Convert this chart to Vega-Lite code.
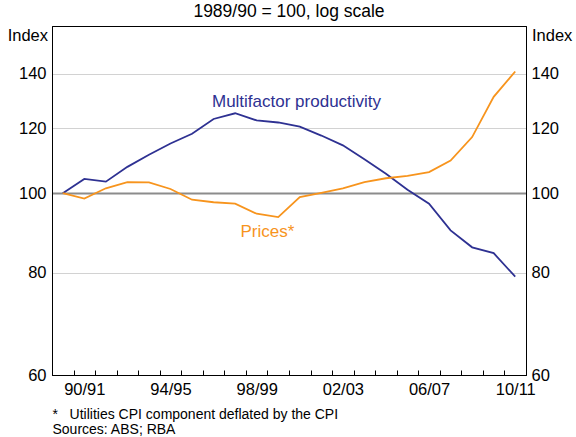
{
  "$schema": "https://vega.github.io/schema/vega-lite/v6.json",
  "width": 474,
  "height": 349,
  "autosize": "none",
  "padding": {"left": 52, "top": 26, "right": 50, "bottom": 62},
  "title": {
    "text": "1989/90 = 100, log scale",
    "fontSize": 17.5,
    "fontWeight": "normal",
    "font": "Liberation Sans",
    "color": "#000",
    "anchor": "middle",
    "frame": "group",
    "baseline": "bottom",
    "offset": 4,
    "dy": 16
  },
  "config": {
    "font": "Liberation Sans",
    "view": {"stroke": "#000", "strokeWidth": 1},
    "axis": {"labelColor": "#000", "titleColor": "#000", "labelFont": "Liberation Sans", "titleFont": "Liberation Sans", "domainColor": "#000", "domainWidth": 1}
  },
  "layer": [
    {
      "data": {
        "values": [
          {"year": 1990, "series": "Multifactor productivity", "value": 100},
          {"year": 1991, "series": "Multifactor productivity", "value": 104.1},
          {"year": 1992, "series": "Multifactor productivity", "value": 103.3},
          {"year": 1993, "series": "Multifactor productivity", "value": 107.7},
          {"year": 1994, "series": "Multifactor productivity", "value": 111.4},
          {"year": 1995, "series": "Multifactor productivity", "value": 115.0},
          {"year": 1996, "series": "Multifactor productivity", "value": 118.2},
          {"year": 1997, "series": "Multifactor productivity", "value": 123.2},
          {"year": 1998, "series": "Multifactor productivity", "value": 125.2},
          {"year": 1999, "series": "Multifactor productivity", "value": 122.7},
          {"year": 2000, "series": "Multifactor productivity", "value": 122.0},
          {"year": 2001, "series": "Multifactor productivity", "value": 120.6},
          {"year": 2002, "series": "Multifactor productivity", "value": 117.6},
          {"year": 2003, "series": "Multifactor productivity", "value": 114.4},
          {"year": 2004, "series": "Multifactor productivity", "value": 110.0},
          {"year": 2005, "series": "Multifactor productivity", "value": 105.6},
          {"year": 2006, "series": "Multifactor productivity", "value": 101.0},
          {"year": 2007, "series": "Multifactor productivity", "value": 97.1},
          {"year": 2008, "series": "Multifactor productivity", "value": 90.1},
          {"year": 2009, "series": "Multifactor productivity", "value": 85.9},
          {"year": 2010, "series": "Multifactor productivity", "value": 84.5},
          {"year": 2011, "series": "Multifactor productivity", "value": 79.1},
          {"year": 1990, "series": "Prices", "value": 100},
          {"year": 1991, "series": "Prices", "value": 98.5},
          {"year": 1992, "series": "Prices", "value": 101.4},
          {"year": 1993, "series": "Prices", "value": 103.2},
          {"year": 1994, "series": "Prices", "value": 103.1},
          {"year": 1995, "series": "Prices", "value": 101.2},
          {"year": 1996, "series": "Prices", "value": 98.2},
          {"year": 1997, "series": "Prices", "value": 97.5},
          {"year": 1998, "series": "Prices", "value": 97.1},
          {"year": 1999, "series": "Prices", "value": 94.4},
          {"year": 2000, "series": "Prices", "value": 93.5},
          {"year": 2001, "series": "Prices", "value": 98.9},
          {"year": 2002, "series": "Prices", "value": 100.1},
          {"year": 2003, "series": "Prices", "value": 101.4},
          {"year": 2004, "series": "Prices", "value": 103.2},
          {"year": 2005, "series": "Prices", "value": 104.3},
          {"year": 2006, "series": "Prices", "value": 105.0},
          {"year": 2007, "series": "Prices", "value": 106.1},
          {"year": 2008, "series": "Prices", "value": 109.6},
          {"year": 2009, "series": "Prices", "value": 117.1},
          {"year": 2010, "series": "Prices", "value": 131.1},
          {"year": 2011, "series": "Prices", "value": 140.8}
        ]
      },
      "mark": {"type": "line", "strokeWidth": 1.8},
      "encoding": {
        "x": {
          "field": "year",
          "type": "quantitative",
          "scale": {"domain": [1989.5, 2011.5], "nice": false, "zero": false},
          "axis": {
            "orient": "bottom",
            "offset": -5,
            "values": [1989.5, 1990.5, 1991.5, 1992.5, 1993.5, 1994.5, 1995.5, 1996.5, 1997.5, 1998.5, 1999.5, 2000.5, 2001.5, 2002.5, 2003.5, 2004.5, 2005.5, 2006.5, 2007.5, 2008.5, 2009.5, 2010.5, 2011.5],
            "labelExpr": "(datum.value + 0.5) % 4 == 3 ? slice(toString(datum.value - 0.5), 2) + '/' + slice(toString(datum.value + 0.5), 2) : ''",
            "labelOffset": 10.78,
            "labelOverlap": false,
            "labelFlush": false,
            "labelFontSize": 16.5,
            "labelPadding": 6.5,
            "ticks": true,
            "tickSize": 5,
            "tickColor": "#000",
            "tickWidth": 1,
            "domain": false,
            "grid": false,
            "title": ["*\u00a0\u00a0\u00a0Utilities CPI component deflated by the CPI", "Sources: ABS; RBA"],
            "titleFontSize": 14,
            "titleFontWeight": "normal",
            "titleAlign": "left",
            "titleAnchor": "start",
            "titleBaseline": "top",
            "titleLineHeight": 15,
            "titleX": 0,
            "titleY": 37
          }
        },
        "y": {
          "field": "value",
          "type": "quantitative",
          "scale": {"type": "log", "domain": [60, 160], "nice": false, "zero": false},
          "axis": {
            "orient": "left",
            "values": [60, 80, 100, 120, 140],
            "format": "d",
            "title": "Index",
            "titleAngle": 0,
            "titleAlign": "right",
            "titleBaseline": "alphabetic",
            "titleX": -4.5,
            "titleY": 14,
            "titleFontSize": 16.5,
            "titleFontWeight": "normal",
            "labelFontSize": 16.5,
            "labelPadding": 6,
            "labelFlush": false,
            "labelOverlap": false,
            "ticks": false,
            "domain": true,
            "grid": true,
            "gridColor": {"condition": [{"test": "datum.value === 100", "value": "#8c8c8c"}, {"test": "datum.value === 60", "value": "#000000"}], "value": "#d2d2d2"},
            "gridWidth": {"condition": {"test": "datum.value === 100", "value": 2}, "value": 1}
          }
        },
        "color": {
          "field": "series",
          "type": "nominal",
          "scale": {"domain": ["Multifactor productivity", "Prices"], "range": ["#2e3192", "#f7941d"]},
          "legend": null
        }
      }
    },
    {
      "data": {
        "values": [
          {"year": 2000.85, "value": 129.4, "series": "Multifactor productivity", "label": "Multifactor productivity"},
          {"year": 1999.5, "value": 89.8, "series": "Prices", "label": "Prices*"}
        ]
      },
      "mark": {"type": "text", "fontSize": 17, "align": "center", "baseline": "middle", "font": "Liberation Sans"},
      "encoding": {
        "x": {
          "field": "year",
          "type": "quantitative",
          "scale": {"domain": [1989.5, 2011.5], "nice": false, "zero": false},
          "axis": {"orient": "top", "labels": false, "ticks": false, "domain": true, "grid": false, "title": null}
        },
        "y": {
          "field": "value",
          "type": "quantitative",
          "scale": {"type": "log", "domain": [60, 160], "nice": false, "zero": false},
          "axis": {
            "orient": "right",
            "values": [60, 80, 100, 120, 140],
            "format": "d",
            "title": "Index",
            "titleAngle": 0,
            "titleAlign": "left",
            "titleBaseline": "alphabetic",
            "titleX": 5.5,
            "titleY": 14,
            "titleFontSize": 16.5,
            "titleFontWeight": "normal",
            "labelFontSize": 16.5,
            "labelPadding": 5,
            "labelFlush": false,
            "labelOverlap": false,
            "ticks": false,
            "domain": true,
            "grid": false
          }
        },
        "text": {"field": "label"},
        "color": {
          "field": "series",
          "type": "nominal",
          "scale": {"domain": ["Multifactor productivity", "Prices"], "range": ["#2e3192", "#f7941d"]},
          "legend": null
        }
      }
    }
  ],
  "resolve": {"axis": {"x": "independent", "y": "independent"}}
}
